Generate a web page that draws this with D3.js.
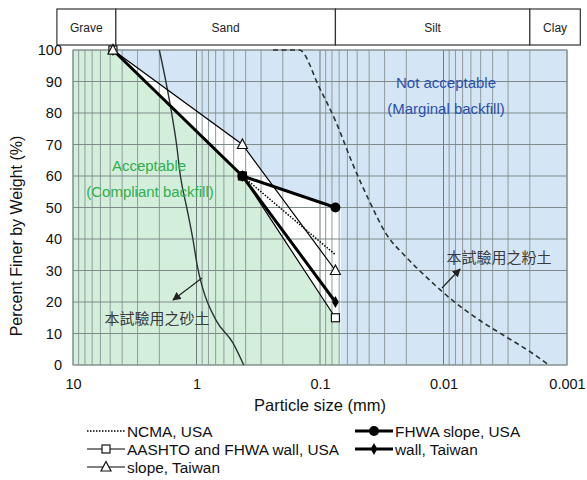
<!DOCTYPE html>
<html>
<head>
<meta charset="utf-8">
<script src="https://cdn.jsdelivr.net/npm/d3@7"></script>
<style>
  body { margin: 0; background: #fff; }
  svg text { font-family: "Liberation Sans", Arial, sans-serif; }
  .cjk { font-family: "Noto Sans CJK TC", "Noto Sans CJK SC", sans-serif; }
</style>
</head>
<body>
<svg id="chart" width="587" height="480"></svg>
<script>
"use strict"

// soil classes along the top band (mm)
var bandNames = ["Grave", "Sand", "Silt", "Clay"]
var bandEdges = [13.5, 4.5, 0.075, 0.002, 0.00078]

var xTicks = [10, 1, 0.1, 0.01, 0.001]
var xTickLabels = ["10", "1", "0.1", "0.01", "0.001"]
var yTicks = [0, 10, 20, 30, 40, 50, 60, 70, 80, 90, 100]

// specification envelopes: [size mm, percent finer]
var ncma = [[4.75, 100], [0.425, 60], [0.075, 35]]
var fhwaSlope = [[0.425, 60], [0.075, 50]]
var aashto = [[4.75, 100], [0.425, 60], [0.075, 15]]
var wallTaiwan = [[4.75, 100], [0.425, 60], [0.075, 20]]
var slopeTaiwan = [[4.75, 100], [0.425, 70], [0.075, 30]]
var zoneEdge = 0.068

// tested soils
var sandCurve = [[2.0, 100], [1.77, 90], [1.59, 80], [1.45, 70], [1.35, 60], [1.2, 50],
  [1.07, 40], [0.98, 31], [0.885, 24], [0.69, 14], [0.507, 7], [0.415, 0]]
var siltCurve = [[0.24, 100], [0.147, 100], [0.101, 88], [0.074, 77], [0.0546, 64],
  [0.0398, 52], [0.0292, 41.7], [0.0201, 34.3], [0.013, 27], [0.0085, 20.6],
  [0.0051, 14.2], [0.00313, 9], [0.00192, 3.8], [0.0014, 0]]

var svg = d3.select("#chart")

var x = d3.scaleLog().domain([10, 0.001]).range([73, 567])
var y = d3.scaleLinear().domain([0, 100]).range([365, 50])

var line = d3.line().x(function(d){ return x(d[0]) }).y(function(d){ return y(d[1]) })
var smooth = d3.line().curve(d3.curveMonotoneX)
  .x(function(d){ return x(d[0]) }).y(function(d){ return y(d[1]) })
var area = d3.area()
  .x(function(d){ return x(d[0]) })
  .y0(y(0))
  .y1(function(d){ return y(d[1]) })

function extend(s) {
  return s.concat([[zoneEdge, s[s.length - 1][1]]])
}

// zones: blue everywhere, white under the upper envelope, green under the lower one
svg.append("rect")
  .attr("x", x(10)).attr("y", y(100))
  .attr("width", x(0.001) - x(10)).attr("height", y(0) - y(100))
  .attr("fill", "#d4e6f5")

var specs = [ncma, fhwaSlope, aashto, wallTaiwan, slopeTaiwan]
specs.forEach(function(s){
  svg.append("path").attr("d", area(extend(s))).attr("fill", "#ffffff")
})

svg.append("path")
  .attr("d", area([[10, 100]].concat(extend(aashto))))
  .attr("fill", "#d3efdc")

// grid
var vLines = []
for (var e = -3; e < 1; e++) {
  for (var m = 1; m < 10; m++) vLines.push(m * Math.pow(10, e))
}
vLines.push(10)

svg.selectAll(".vgrid")
  .data(vLines)
  .enter().append("line")
  .attr("x1", function(d){ return x(d) })
  .attr("x2", function(d){ return x(d) })
  .attr("y1", y(0)).attr("y2", y(100))
  .attr("stroke", function(d){ return xTicks.indexOf(+d.toPrecision(3)) >= 0 ? "#6f7b7b" : "#8f9b9b" })
  .attr("stroke-width", 1)

svg.selectAll(".hgrid")
  .data(yTicks)
  .enter().append("line")
  .attr("x1", x(10)).attr("x2", x(0.001))
  .attr("y1", function(d){ return y(d) })
  .attr("y2", function(d){ return y(d) })
  .attr("stroke", "#7f8b8b")
  .attr("stroke-width", 1)

svg.append("rect")
  .attr("x", x(10)).attr("y", y(100))
  .attr("width", x(0.001) - x(10)).attr("height", y(0) - y(100))
  .attr("fill", "none").attr("stroke", "#8a9494")

// top band
svg.selectAll(".band")
  .data(bandNames)
  .enter().append("rect")
  .attr("x", function(d, i){ return x(bandEdges[i]) })
  .attr("width", function(d, i){ return x(bandEdges[i + 1]) - x(bandEdges[i]) })
  .attr("y", 9).attr("height", 36)
  .attr("fill", "#fff").attr("stroke", "#333").attr("stroke-width", 1.2)

svg.selectAll(".bandLabel")
  .data(bandNames)
  .enter().append("text")
  .attr("x", function(d, i){ return (x(bandEdges[i]) + x(bandEdges[i + 1])) / 2 })
  .attr("y", 32)
  .attr("text-anchor", "middle")
  .attr("font-size", 12)
  .attr("fill", "#222")
  .text(function(d){ return d })

// soil curves
svg.append("path").attr("d", smooth(sandCurve))
  .attr("fill", "none").attr("stroke", "#2b3333").attr("stroke-width", 1.4)
svg.append("path").attr("d", smooth(siltCurve))
  .attr("fill", "none").attr("stroke", "#2b3333").attr("stroke-width", 1.6)
  .attr("stroke-dasharray", "5,3.5")

// spec lines
var series = [
  { name: "wall, Taiwan", data: wallTaiwan, width: 3, dash: null, marker: "diamond" },
  { name: "NCMA, USA", data: ncma, width: 1.5, dash: "1.5,1.5", marker: null },
  { name: "AASHTO and FHWA wall, USA", data: aashto, width: 1.2, dash: null, marker: "square" },
  { name: "slope, Taiwan", data: slopeTaiwan, width: 1.2, dash: null, marker: "triangle" },
  { name: "FHWA slope, USA", data: fhwaSlope, width: 3, dash: null, marker: "circle" }
]

function drawMarker(g, type, cx, cy) {
  if (type == "circle") {
    g.append("circle").attr("cx", cx).attr("cy", cy).attr("r", 5).attr("fill", "#000")
  } else if (type == "diamond") {
    g.append("path").attr("d", d3.symbol(d3.symbolDiamond, 40)())
      .attr("transform", "translate(" + cx + "," + cy + ")").attr("fill", "#000")
  } else if (type == "square") {
    g.append("rect").attr("x", cx - 4).attr("y", cy - 4).attr("width", 8).attr("height", 8)
      .attr("fill", "#fff").attr("stroke", "#111").attr("stroke-width", 1.2)
  } else if (type == "triangle") {
    g.append("path").attr("d", "M0,-5.5L5,4L-5,4Z")
      .attr("transform", "translate(" + cx + "," + cy + ")")
      .attr("fill", "#fff").attr("stroke", "#111").attr("stroke-width", 1.2)
  }
}

var specG = svg.append("g")
series.forEach(function(s){
  specG.append("path").attr("d", line(s.data))
    .attr("fill", "none").attr("stroke", "#000")
    .attr("stroke-width", s.width)
    .attr("stroke-dasharray", s.dash)
})
series.forEach(function(s){
  if (!s.marker) return
  s.data.forEach(function(d){ drawMarker(specG, s.marker, x(d[0]), y(d[1])) })
})

// annotations
svg.append("defs").append("marker")
  .attr("id", "arrow").attr("viewBox", "0 0 10 10")
  .attr("refX", 9).attr("refY", 5)
  .attr("markerWidth", 7).attr("markerHeight", 7)
  .attr("orient", "auto")
  .append("path").attr("d", "M0,0L10,5L0,10Z").attr("fill", "#222")

svg.append("line")
  .attr("x1", 202).attr("y1", 278).attr("x2", 173).attr("y2", 300)
  .attr("stroke", "#222").attr("stroke-width", 1.2).attr("marker-end", "url(#arrow)")
svg.append("line")
  .attr("x1", 442).attr("y1", 288).attr("x2", 460).attr("y2", 269)
  .attr("stroke", "#222").attr("stroke-width", 1.2).attr("marker-end", "url(#arrow)")

svg.append("text").attr("class", "cjk")
  .attr("x", 157).attr("y", 324).attr("text-anchor", "middle")
  .attr("font-size", 15).attr("fill", "#3a3a3a").text("本試驗用之砂土")
svg.append("text").attr("class", "cjk")
  .attr("x", 499).attr("y", 263).attr("text-anchor", "middle")
  .attr("font-size", 15).attr("fill", "#3a3a3a").text("本試驗用之粉土")

svg.append("text").attr("x", 149).attr("y", 171).attr("text-anchor", "middle")
  .attr("font-size", 15).attr("fill", "#2fae4e").text("Acceptable")
svg.append("text").attr("x", 150).attr("y", 197).attr("text-anchor", "middle")
  .attr("font-size", 15).attr("fill", "#2fae4e").text("(Compliant backfill)")
svg.append("text").attr("x", 446).attr("y", 88).attr("text-anchor", "middle")
  .attr("font-size", 15).attr("fill", "#2a4fb0").text("Not acceptable")
svg.append("text").attr("x", 446).attr("y", 113.5).attr("text-anchor", "middle")
  .attr("font-size", 15).attr("fill", "#2a4fb0").text("(Marginal backfill)")

// axes
var xAxis = svg.append("g")
  .attr("transform", "translate(0," + y(0) + ")")
  .call(d3.axisBottom(x).tickValues(xTicks).tickSize(0).tickPadding(14)
    .tickFormat(function(d, i){ return xTickLabels[i] }))
xAxis.select(".domain").remove()
xAxis.selectAll("text").attr("font-size", 14.5).attr("fill", "#111")
  .style("font-family", "'Liberation Sans', Arial, sans-serif")

var yAxis = svg.append("g")
  .attr("transform", "translate(" + x(10) + ",0)")
  .call(d3.axisLeft(y).tickValues(yTicks).tickSize(0).tickPadding(11))
yAxis.select(".domain").remove()
yAxis.selectAll("text").attr("font-size", 14.5).attr("fill", "#111")
  .style("font-family", "'Liberation Sans', Arial, sans-serif")

svg.append("text").attr("x", 320).attr("y", 411).attr("text-anchor", "middle")
  .attr("font-size", 16.5).attr("fill", "#111").text("Particle size (mm)")
svg.append("text")
  .attr("transform", "translate(22,236) rotate(-90)")
  .attr("text-anchor", "middle").attr("font-size", 16).attr("fill", "#111")
  .text("Percent Finer by Weight  (%)")

// legend
var legendOrder = [
  { s: series[1], col: 0, row: 0 },
  { s: series[2], col: 0, row: 1 },
  { s: series[3], col: 0, row: 2 },
  { s: series[4], col: 1, row: 0 },
  { s: series[0], col: 1, row: 1 }
]
var legendCols = [87, 355]
var legendG = svg.append("g")
legendOrder.forEach(function(l){
  var lx = legendCols[l.col]
  var ly = 431 + l.row * 18
  legendG.append("line")
    .attr("x1", lx).attr("x2", lx + 38).attr("y1", ly).attr("y2", ly)
    .attr("stroke", "#000").attr("stroke-width", l.s.width)
    .attr("stroke-dasharray", l.s.dash)
  if (l.s.marker) drawMarker(legendG, l.s.marker, lx + 19, ly)
  legendG.append("text").attr("x", lx + 40).attr("y", ly + 5.5)
    .attr("font-size", 15.4).attr("fill", "#111").text(l.s.name)
})
</script>
</body>
</html>
